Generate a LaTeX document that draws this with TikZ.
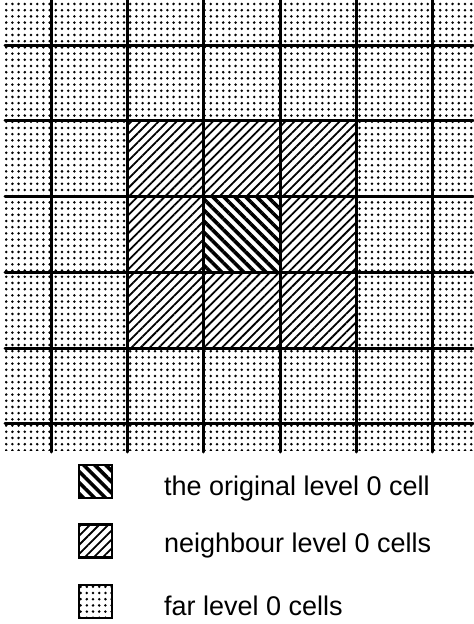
\documentclass[tikz,border=0pt]{standalone}
\usepackage{fontspec}
\setmainfont{Liberation Sans}
\usetikzlibrary{patterns.meta,positioning}

\begin{document}
\begin{tikzpicture}[
  x=0.5pt, y=-0.5pt,
  font=\fontsize{13.5}{16}\selectfont,
  gridline/.style={line width=1.5pt, line cap=round},
  farcell/.style={pattern={Dots[distance=3.1pt, radius=0.7pt]}},
  nbcell/.style={preaction={fill=white},
                 pattern={Lines[angle=45, distance=3.2pt, line width=0.9pt]}},
  origcell/.style={preaction={fill=white},
                   pattern={Lines[angle=-45, distance=3.9pt, line width=1.8pt]}},
  keybox/.style={draw, line width=1.1pt, minimum size=16.5pt, inner sep=0pt},
  keytext/.style={anchor=base west},
]
\useasboundingbox (0,0) rectangle (473,624);

% Cells
\path[farcell] (5,2) rectangle (473,450);
\path[nbcell] (127,121) rectangle (356,348);
\path[origcell] (203,197) rectangle (280,273);

% Grid
\foreach \x in {51,127,203,280,356,432}
  \draw[gridline] (\x,0) -- (\x,452);
\foreach \y in {46,121,197,273,348,423}
  \draw[gridline] (5,\y) -- (473,\y);

% Legend
\node[keybox, origcell] (korig) at (95.5,481.5) {};
\node[keybox, nbcell] (knb) at (95.5,541) {};
\node[keybox, farcell] (kfar) at (95.5,601.5) {};

\node[keytext] (torig) at (157,495) {the original level 0 cell};
\node[keytext] (tnb) at (157,552) {neighbour level 0 cells};
\node[keytext] (tfar) at (157,615) {far level 0 cells};

\end{tikzpicture}
\end{document}
